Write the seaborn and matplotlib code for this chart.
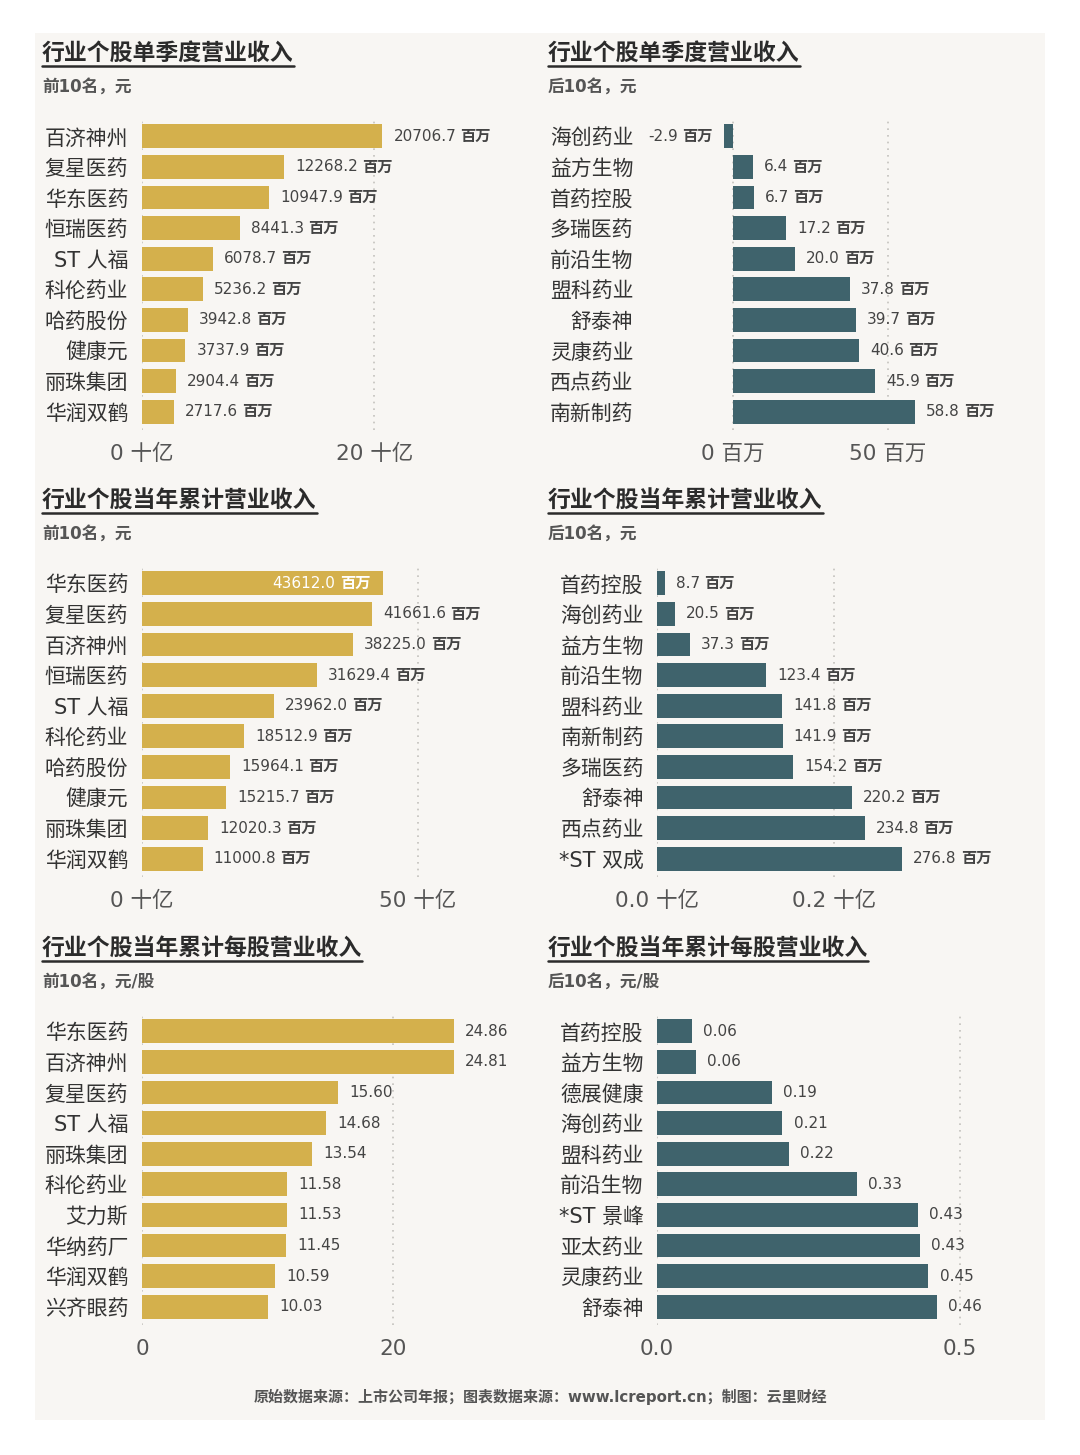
import matplotlib
matplotlib.use('Agg')
import matplotlib.pyplot as plt
from matplotlib.patches import Rectangle
from matplotlib.lines import Line2D
from matplotlib.offsetbox import TextArea, HPacker, AnnotationBbox
import seaborn as sns

sns.set_style('white')
plt.rcParams['font.family'] = ['DejaVu Sans', 'Noto Sans CJK SC']
plt.rcParams['axes.unicode_minus'] = False

# data ---------------------------------------------------------------
tl_names = ['百济神州', '复星医药', '华东医药', '恒瑞医药', 'ST 人福', '科伦药业', '哈药股份', '健康元', '丽珠集团', '华润双鹤']
tl_vals = [20706.7, 12268.2, 10947.9, 8441.3, 6078.7, 5236.2, 3942.8, 3737.9, 2904.4, 2717.6]  # 百万

tr_names = ['海创药业', '益方生物', '首药控股', '多瑞医药', '前沿生物', '盟科药业', '舒泰神', '灵康药业', '西点药业', '南新制药']
tr_vals = [-2.9, 6.4, 6.7, 17.2, 20.0, 37.8, 39.7, 40.6, 45.9, 58.8]  # 百万

ml_names = ['华东医药', '复星医药', '百济神州', '恒瑞医药', 'ST 人福', '科伦药业', '哈药股份', '健康元', '丽珠集团', '华润双鹤']
ml_vals = [43612.0, 41661.6, 38225.0, 31629.4, 23962.0, 18512.9, 15964.1, 15215.7, 12020.3, 11000.8]  # 百万

mr_names = ['首药控股', '海创药业', '益方生物', '前沿生物', '盟科药业', '南新制药', '多瑞医药', '舒泰神', '西点药业', '*ST 双成']
mr_vals = [8.7, 20.5, 37.3, 123.4, 141.8, 141.9, 154.2, 220.2, 234.8, 276.8]  # 百万

bl_names = ['华东医药', '百济神州', '复星医药', 'ST 人福', '丽珠集团', '科伦药业', '艾力斯', '华纳药厂', '华润双鹤', '兴齐眼药']
bl_vals = [24.86, 24.81, 15.60, 14.68, 13.54, 11.58, 11.53, 11.45, 10.59, 10.03]  # 元/股

br_names = ['首药控股', '益方生物', '德展健康', '海创药业', '盟科药业', '前沿生物', '*ST 景峰', '亚太药业', '灵康药业', '舒泰神']
br_vals = [0.058, 0.064, 0.189, 0.207, 0.217, 0.330, 0.430, 0.434, 0.448, 0.4615]  # 元/股

titles = ['行业个股单季度营业收入', '行业个股当年累计营业收入', '行业个股当年累计每股营业收入']
subs_left = ['前10名，元', '前10名，元', '前10名，元/股']
subs_right = ['后10名，元', '后10名，元', '后10名，元/股']

GOLD = '#D4B04C'
TEAL = '#3F636C'
TXT = '#444444'
GRID = '#c4c2bd'

W, H = 1080, 1455
fig = plt.figure(figsize=(W / 100, H / 100), dpi=100, facecolor='white')
fig.patches.append(Rectangle((35 / W, 1 - 1420 / H), 1010 / W, 1387 / H,
                             transform=fig.transFigure, facecolor='#F8F6F3',
                             edgecolor='none', zorder=-5))


def px_axes(x0, y0, x1, y1):
    return fig.add_axes([x0 / W, 1 - y1 / H, (x1 - x0) / W, (y1 - y0) / H])


def value_label(ax, num, unit, xy, color, side):
    parts = [TextArea(num, textprops=dict(fontsize=11, color=color))]
    if unit:
        parts.append(TextArea(unit, textprops=dict(fontsize=11, color=color, fontweight='bold')))
    box = HPacker(children=parts, pad=0, sep=3, align='baseline')
    if side == 'right':
        off, align = (8, 0), (0, 0.5)
    elif side == 'left':
        off, align = (-8, 0), (1, 0.5)
    else:  # inside
        off, align = (-9, 0), (1, 0.5)
    ab = AnnotationBbox(box, xy, xybox=off, boxcoords='offset points',
                        box_alignment=align, frameon=False, pad=0, annotation_clip=False)
    ax.add_artist(ab)


def panel(ax, names, vals, color, xlim, ticks, ticklabels, fmt, unit, ypad, inside_first=False):
    sns.barplot(x=vals, y=names, orient='h', color=color, saturation=1,
                width=0.78, linewidth=0, ax=ax)
    ax.set_xlim(*xlim)
    ax.set_ylim(9.6, -0.6)
    ax.patch.set_alpha(0)
    for s in ax.spines.values():
        s.set_visible(False)
    ax.set_xticks(ticks)
    ax.set_xticklabels(ticklabels, fontsize=15.5, color='#555555')
    ax.tick_params(axis='x', length=0, pad=10)
    ax.tick_params(axis='y', length=0, pad=ypad, labelsize=15, labelcolor='#333333')
    ax.set_xlabel('')
    ax.set_ylabel('')
    for t in ticks:
        ax.axvline(t, color=GRID, lw=1.2, ls=(0, (1, 3)), zorder=0)
    for i, v in enumerate(vals):
        if inside_first and i == 0:
            value_label(ax, fmt(v), unit, (v, i), 'white', 'inside')
        elif v < 0:
            value_label(ax, fmt(v), unit, (v, i), TXT, 'left')
        else:
            value_label(ax, fmt(v), unit, (v, i), TXT, 'right')


rows_y = [(118, 430), (565, 877), (1013, 1325)]
LX0, LX1 = 142, 510
RX0, RX1 = 657, 1010

# row 1
ax = px_axes(LX0, rows_y[0][0], LX1, rows_y[0][1])
panel(ax, tl_names, [v / 1000 for v in tl_vals], GOLD, (0, 31.7), [0, 20], ['0 十亿', '20 十亿'],
      lambda v: f'{v * 1000:.1f}', '百万', 10)
ax = px_axes(RX0, rows_y[0][0], RX1, rows_y[0][1])
panel(ax, tr_names, tr_vals, TEAL, (-24.5, 89.4), [0, 50], ['0 百万', '50 百万'],
      lambda v: f'{v:.1f}', '百万', 17)

# row 2
ax = px_axes(LX0, rows_y[1][0], LX1, rows_y[1][1])
panel(ax, ml_names, [v / 1000 for v in ml_vals], GOLD, (0, 66.7), [0, 50], ['0 十亿', '50 十亿'],
      lambda v: f'{v * 1000:.1f}', '百万', 10, inside_first=True)
ax = px_axes(RX0, rows_y[1][0], RX1, rows_y[1][1])
panel(ax, mr_names, [v / 1000 for v in mr_vals], TEAL, (0, 0.399), [0, 0.2], ['0.0 十亿', '0.2 十亿'],
      lambda v: f'{v * 1000:.1f}', '百万', 9.5)

# row 3
ax = px_axes(LX0, rows_y[2][0], LX1, rows_y[2][1])
panel(ax, bl_names, bl_vals, GOLD, (0, 29.3), [0, 20], ['0', '20'],
      lambda v: f'{v:.2f}', '', 10)
ax = px_axes(RX0, rows_y[2][0], RX1, rows_y[2][1])
panel(ax, br_names, br_vals, TEAL, (0, 0.5825), [0, 0.5], ['0.0', '0.5'],
      lambda v: f'{v:.2f}', '', 9.5)

# titles with underline
title_texts = []
for r, (t, sl, sr) in enumerate(zip(titles, subs_left, subs_right)):
    ty = [53, 500, 948][r]
    for x, sub in [(42, sl), (548, sr)]:
        tt = fig.text(x / W, 1 - ty / H, t, fontsize=16.5, fontweight='bold', color='#2b2b2b',
                      ha='left', va='center')
        title_texts.append(tt)
        fig.text(x / W, 1 - (ty + 34) / H, sub, fontsize=12, fontweight='bold', color='#555555',
                 ha='left', va='center')

fig.text(540 / W, 1 - 1397 / H, '原始数据来源：上市公司年报；图表数据来源：www.lcreport.cn；制图：云里财经',
         fontsize=10.8, fontweight='bold', color='#555555', ha='center', va='center')

fig.canvas.draw()
renderer = fig.canvas.get_renderer()
for tt in title_texts:
    bb = tt.get_window_extent(renderer)
    y = bb.y0 - 1
    fig.add_artist(Line2D([bb.x0 / W, bb.x1 / W], [y / H, y / H], transform=fig.transFigure,
                          color='#2b2b2b', lw=1.8))

fig.savefig('out.png', dpi=100, facecolor='white')
